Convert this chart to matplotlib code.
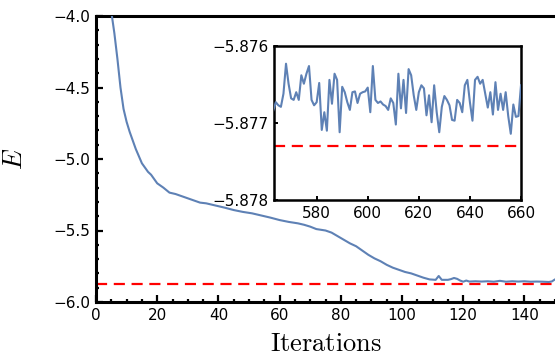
import matplotlib
matplotlib.use("Agg")
import matplotlib.pyplot as plt
import numpy as np
from matplotlib.ticker import MultipleLocator, FuncFormatter

plt.rcParams['font.family'] = ['DejaVu Sans']
plt.rcParams['mathtext.fontset'] = 'cm'

# ---- data ----
main_iter = [4, 5, 6, 7, 8, 9, 10, 11, 12, 13, 14, 15, 16, 17, 18, 19, 20, 22, 24, 26, 28,
             30, 32, 34, 36, 38, 40, 42, 45, 48, 51, 54, 57, 60, 63, 66, 68, 70, 72, 75,
             77, 79, 81, 83, 85, 87, 89, 91, 93, 95, 97, 99, 101, 103, 105, 107, 109,
             111, 112, 113, 115, 116, 117, 118, 119, 120, 121, 122, 124, 126, 128, 130,
             132, 134, 136, 138, 140, 142, 144, 146, 148, 149, 150, 151]
main_energy = [-3.80, -3.97, -4.12, -4.30, -4.50, -4.65, -4.74, -4.81, -4.87, -4.93, -4.98,
               -5.03, -5.06, -5.09, -5.11, -5.14, -5.17, -5.20, -5.235, -5.245, -5.26,
               -5.275, -5.29, -5.305, -5.31, -5.32, -5.33, -5.34, -5.357, -5.37, -5.38,
               -5.395, -5.41, -5.427, -5.44, -5.45, -5.46, -5.473, -5.49, -5.50, -5.515,
               -5.54, -5.565, -5.59, -5.61, -5.64, -5.67, -5.695, -5.715, -5.74, -5.76,
               -5.775, -5.79, -5.80, -5.815, -5.83, -5.842, -5.845, -5.818, -5.845, -5.845,
               -5.84, -5.832, -5.838, -5.85, -5.858, -5.85, -5.857, -5.855, -5.857, -5.855,
               -5.858, -5.852, -5.858, -5.855, -5.857, -5.855, -5.858, -5.857, -5.858,
               -5.86, -5.856, -5.842, -5.838]

inset_start = 563
inset_energy = [
    -5.87684, -5.87673, -5.87677, -5.87679, -5.87662, -5.87623, -5.87649, -5.87668,
    -5.87670, -5.87660, -5.87670, -5.87638, -5.87649, -5.87636, -5.87626, -5.87670,
    -5.87677, -5.87673, -5.87648, -5.87709, -5.87686, -5.87710, -5.87644, -5.87675,
    -5.87636, -5.87644, -5.87712, -5.87653, -5.87660, -5.87673, -5.87683, -5.87660,
    -5.87659, -5.87674, -5.87662, -5.87660, -5.87659, -5.87654, -5.87686, -5.87626,
    -5.87670, -5.87674, -5.87672, -5.87676, -5.87678, -5.87683, -5.87668, -5.87674,
    -5.87702, -5.87636, -5.87681, -5.87644, -5.87687, -5.87630, -5.87638, -5.87664,
    -5.87683, -5.87660, -5.87651, -5.87655, -5.87690, -5.87664, -5.87699, -5.87651,
    -5.87686, -5.87712, -5.87679, -5.87665, -5.87670, -5.87677, -5.87696, -5.87697,
    -5.87670, -5.87674, -5.87686, -5.87651, -5.87644, -5.87673, -5.87697, -5.87644,
    -5.87640, -5.87649, -5.87644, -5.87662, -5.87680, -5.87660, -5.87689, -5.87647,
    -5.87683, -5.87662, -5.87683, -5.87660, -5.87691, -5.87714, -5.87676, -5.87692,
    -5.87691, -5.87651]
inset_iter = np.arange(inset_start, inset_start + len(inset_energy))

exact_energy = -5.8773

main_xlim = (0, 150)
main_ylim = (-6.0, -4.0)
inset_xlim = (563.3, 660)
inset_ylim = (-5.878, -5.876)
inset_yticks = [-5.878, -5.877, -5.876]
inset_xticks = [580, 600, 620, 640, 660]

blue = '#5E81B5'


def fmt(decimals):
    return FuncFormatter(lambda v, p: f'{v:.{decimals}f}'.replace('-', '\u2212'))


fig = plt.figure(figsize=(5.55, 3.64), dpi=100)
W, H = 555, 364
ax = fig.add_axes([96 / W, 1 - 302 / H, (555 - 96) / W, 286 / H])

ax.plot(main_iter, main_energy, color=blue, lw=1.5, zorder=3)
ax.axhline(exact_energy, color='red', lw=1.6, ls=(0, (5, 3)), zorder=2)
ax.set_xlim(*main_xlim)
ax.set_ylim(*main_ylim)
ax.xaxis.set_major_locator(MultipleLocator(20))
ax.xaxis.set_minor_locator(MultipleLocator(5))
ax.yaxis.set_major_locator(MultipleLocator(0.5))
ax.yaxis.set_minor_locator(MultipleLocator(0.1))
ax.yaxis.set_major_formatter(fmt(1))
ax.tick_params(which='both', direction='in', top=False, right=False,
               labelsize=11, width=1.6)
ax.tick_params(which='major', length=5, pad=4)
ax.tick_params(which='minor', length=2.5)
for s in ['left', 'bottom', 'top']:
    ax.spines[s].set_linewidth(2.2)
ax.spines['right'].set_visible(False)

ax.set_xlabel(r'$\mathrm{Iterations}$', fontsize=19, labelpad=6)
ax.set_ylabel(r'$E$', fontsize=19, labelpad=18)

ins = fig.add_axes([274 / W, 1 - 200 / H, 247 / W, 154 / H])
ins.plot(inset_iter, inset_energy, color=blue, lw=1.5, zorder=3)
ins.axhline(exact_energy, color='red', lw=1.6, ls=(0, (5, 3)), zorder=2)
ins.set_xlim(*inset_xlim)
ins.set_ylim(*inset_ylim)
ins.set_xticks(inset_xticks)
ins.set_yticks(inset_yticks)
ins.yaxis.set_major_formatter(fmt(3))
ins.tick_params(which='both', direction='in', top=False, right=False,
                labelsize=11, width=1.4, length=3, pad=4)
for s in ins.spines.values():
    s.set_linewidth(1.8)

fig.savefig('out.png', dpi=100)
